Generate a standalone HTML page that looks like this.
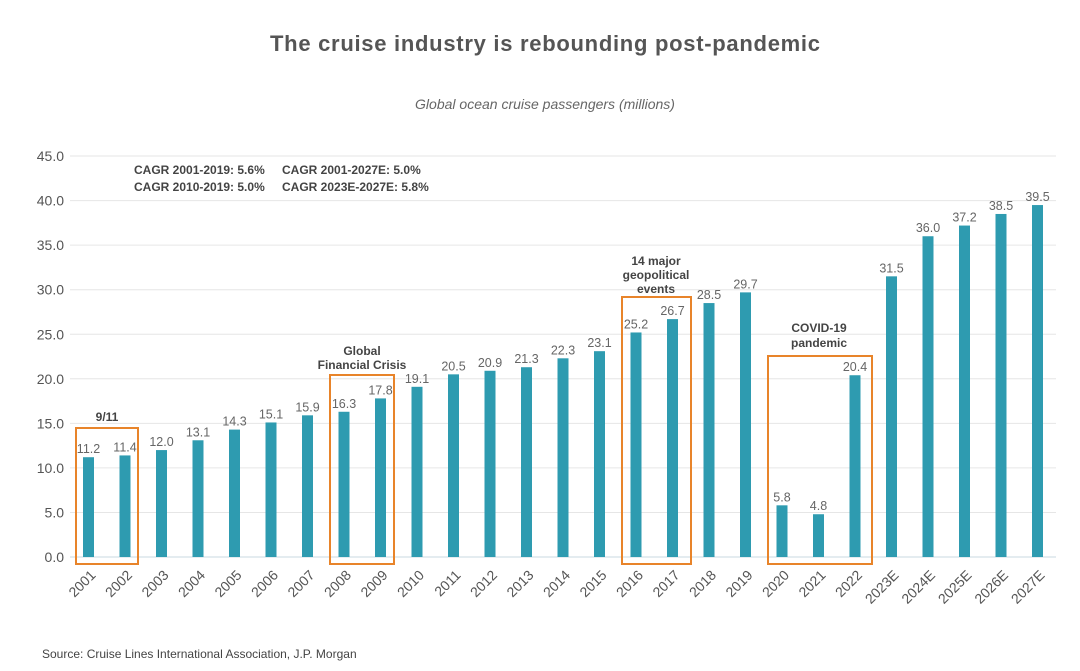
<!DOCTYPE html>
<html><head><meta charset="utf-8"><style>
body{margin:0;background:#fff;width:1080px;height:666px;overflow:hidden;font-family:"Liberation Sans",sans-serif}
</style></head><body>
<svg id="chart" width="1080" height="666" xmlns="http://www.w3.org/2000/svg" font-family="Liberation Sans, sans-serif">
<text x="545" y="51" text-anchor="middle" font-size="22" font-weight="bold" fill="#555" textLength="550">The cruise industry is rebounding post-pandemic</text>
<text x="545" y="109" text-anchor="middle" font-size="14" font-style="italic" fill="#666">Global ocean cruise passengers (millions)</text>
<g id="grid"></g><g id="bars"></g><g id="labels"></g>
<g font-size="12" font-weight="bold" fill="#444">
<text x="134" y="174">CAGR 2001-2019: 5.6%</text>
<text x="134" y="191">CAGR 2010-2019: 5.0%</text>
<text x="282" y="174">CAGR 2001-2027E: 5.0%</text>
<text x="282" y="191">CAGR 2023E-2027E: 5.8%</text>
</g>
<g fill="none" stroke="#e8842a" stroke-width="2">
<rect x="76" y="428" width="62" height="136"/>
<rect x="330" y="375" width="64" height="189"/>
<rect x="622" y="297" width="69" height="267"/>
<rect x="768" y="356" width="104" height="208"/>
</g>
<g font-size="12" font-weight="bold" fill="#444" text-anchor="middle">
<text x="107" y="421">9/11</text>
<text x="362" y="355">Global</text>
<text x="362" y="369">Financial Crisis</text>
<text x="656" y="265">14 major</text>
<text x="656" y="279">geopolitical</text>
<text x="656" y="293">events</text>
<text x="819" y="332">COVID-19</text>
<text x="819" y="347">pandemic</text>
</g>
<text x="42" y="658" font-size="12" fill="#444">Source: Cruise Lines International Association, J.P. Morgan</text>
</svg>
<script>
const categories=["2001","2002","2003","2004","2005","2006","2007","2008","2009","2010","2011","2012","2013","2014","2015","2016","2017","2018","2019","2020","2021","2022","2023E","2024E","2025E","2026E","2027E"];
const values=[11.2,11.4,12.0,13.1,14.3,15.1,15.9,16.3,17.8,19.1,20.5,20.9,21.3,22.3,23.1,25.2,26.7,28.5,29.7,5.8,4.8,20.4,31.5,36.0,37.2,38.5,39.5];
const yTicks=[0,5,10,15,20,25,30,35,40,45];
const NS="http://www.w3.org/2000/svg";
const y=v=>557-v*8.91;
const x=i=>88.5+i*36.5;
function mk(t,a,p){const e=document.createElementNS(NS,t);for(const k in a)e.setAttribute(k,a[k]);p.appendChild(e);return e;}
const grid=document.getElementById('grid'),bars=document.getElementById('bars'),labels=document.getElementById('labels');
yTicks.forEach(t=>{
 const l=mk('line',{x1:70,x2:1056,y1:y(t),y2:y(t),stroke:t===0?'#c8d8e0':'#e6e6e6','stroke-width':1},grid);
 
 
 const tx=mk('text',{x:64,y:y(t)+5,'text-anchor':'end','font-size':14,fill:'#555'},grid);
 tx.textContent=t.toFixed(1);
 
 
});
values.forEach((v,i)=>{
 const r=mk('rect',{x:x(i)-5.5,y:y(v),width:11,height:y(0)-y(v),fill:'#2e9bb0'},bars);
 
 
 const t=mk('text',{x:x(i),y:y(v)-4,'text-anchor':'middle','font-size':12.5,fill:'#666'},labels);
 t.textContent=v.toFixed(1);
 
 
 const cx=x(i)+8, cy=576;
 const c=mk('text',{x:cx,y:cy,'text-anchor':'end','font-size':14,fill:'#555',transform:`rotate(-45 ${cx} ${cy})`},labels);
 c.textContent=categories[i];
 
 
});
</script>
</body></html>
